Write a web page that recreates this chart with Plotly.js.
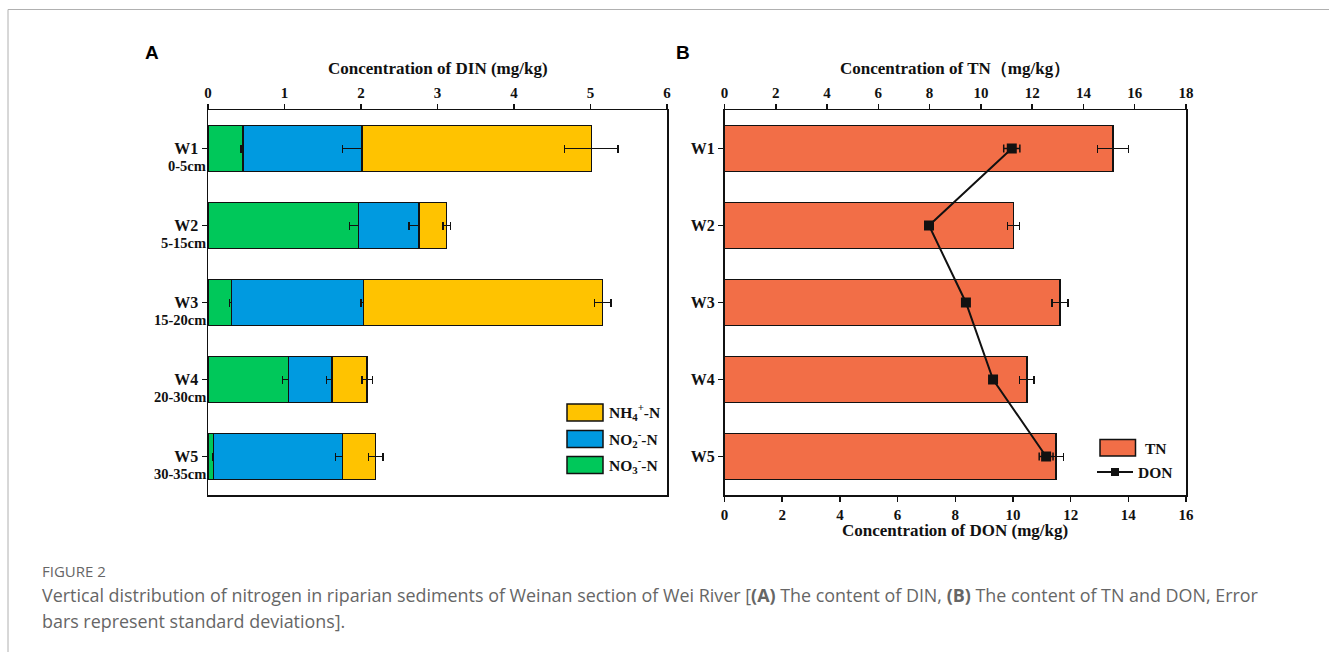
<!DOCTYPE html>
<html><head><meta charset="utf-8">
<script src="https://cdn.plot.ly/plotly-3.0.1.min.js"></script>
<style>html,body{margin:0;padding:0;background:#fff}#chart{width:1329px;height:652px}</style>
</head><body><div id="chart"></div>
<script>
// ---- data ----
const sites = ['W1','W2','W3','W4','W5'];
const depths = ['0-5cm','5-15cm','15-20cm','20-30cm','30-35cm'];
const no3 = [0.46, 1.97, 0.31, 1.05, 0.07];
const no3Err = [0.03, 0.12, 0.03, 0.075, 0.01];
const no2 = [1.55, 0.79, 1.72, 0.57, 1.69];
const no2Err = [0.25, 0.13, 0.03, 0.07, 0.095];
const nh4 = [3.00, 0.36, 3.13, 0.46, 0.43];
const nh4Err = [0.35, 0.05, 0.11, 0.07, 0.095];
const tn = [15.15, 11.27, 13.09, 11.79, 12.92];
const tnErr = [0.60, 0.23, 0.31, 0.28, 0.30];
const don = [9.96, 7.09, 8.37, 9.31, 11.15];
const donErr = [0.28, 0.10, 0.10, 0.10, 0.24];
const dinNames = ['NO<sub>3</sub><sup>-</sup>-N','NO<sub>2</sub><sup>-</sup>-N','NH<sub>4</sub><sup>+</sup>-N'];
const dinColors = ['#00C85A','#009AE0','#FFC300'];
const tnColor = '#F26E47';

// ---- helpers ----
const W = 1329, H = 652;
const px = v => v / W;
const py = v => 1 - v / H;
const serif = 'Liberation Serif, Times New Roman, serif';
const ink = '#111';

const plotTop = 110, plotBot = 495;
const domY = [py(plotBot), py(plotTop)];
const domA = [px(208), px(667)];
const domB = [px(724.5), px(1186)];

function barTrace(x, err, name, color, xa, ya) {
  return {
    type: 'bar', orientation: 'h', y: sites, x: x, name: name,
    xaxis: xa, yaxis: ya, width: 0.6,
    marker: {color: color, line: {color: ink, width: 1.5}},
    error_x: {type: 'data', array: err, visible: true, color: ink, thickness: 1.5, width: 4},
    showlegend: false, hoverinfo: 'x+y+name'
  };
}

const data = [
  barTrace(no3, no3Err, dinNames[0], dinColors[0], 'x', 'y'),
  barTrace(no2, no2Err, dinNames[1], dinColors[1], 'x', 'y'),
  barTrace(nh4, nh4Err, dinNames[2], dinColors[2], 'x', 'y'),
  barTrace(tn, tnErr, 'TN', tnColor, 'x2', 'y2'),
  {
    type: 'scatter', mode: 'lines+markers', y: sites, x: don, name: 'DON',
    xaxis: 'x3', yaxis: 'y2',
    line: {color: ink, width: 2},
    marker: {symbol: 'square', size: 10, color: ink},
    error_x: {type: 'data', array: donErr, visible: true, color: ink, thickness: 1.5, width: 4},
    showlegend: false
  }
];

const tickFontX = {family: serif, size: 15, color: ink, weight: 'bold'};
const tickFontY = {family: serif, size: 16, color: ink, weight: 'bold'};
const axCommon = {
  showline: true, linecolor: ink, linewidth: 1.5, ticks: 'outside', ticklen: 5,
  tickwidth: 1.5, tickcolor: ink, showgrid: false, zeroline: false, automargin: false,
  fixedrange: true
};

const layout = {
  width: W, height: H,
  margin: {l: 0, r: 0, t: 0, b: 0},
  paper_bgcolor: '#fff', plot_bgcolor: '#fff',
  barmode: 'stack', showlegend: false,
  xaxis: Object.assign({}, axCommon, {domain: domA, anchor: 'y', side: 'top', range: [0, 6], dtick: 1, mirror: true, tickfont: tickFontX}),
  yaxis: Object.assign({}, axCommon, {domain: domY, anchor: 'x', type: 'category', categoryorder: 'array', categoryarray: sites, range: [4.5, -0.5], mirror: true, tickfont: tickFontY}),
  xaxis2: Object.assign({}, axCommon, {domain: domB, anchor: 'y2', side: 'top', range: [0, 18], dtick: 2, mirror: false, tickfont: tickFontX}),
  xaxis3: Object.assign({}, axCommon, {overlaying: 'x2', anchor: 'y2', side: 'bottom', range: [0, 16], dtick: 2, tickfont: tickFontX}),
  yaxis2: Object.assign({}, axCommon, {domain: domY, anchor: 'x2', type: 'category', categoryorder: 'array', categoryarray: sites, range: [4.5, -0.5], mirror: true, tickfont: tickFontY}),
  shapes: [],
  annotations: []
};

// page frame
layout.shapes.push({type: 'line', xref: 'paper', yref: 'paper', x0: px(8), x1: 1, y0: py(9.5), y1: py(9.5), line: {color: '#b0b0b0', width: 1}});
layout.shapes.push({type: 'line', xref: 'paper', yref: 'paper', x0: px(8), x1: px(8), y0: py(9.5), y1: 0, line: {color: '#b0b0b0', width: 1}});

const ann = (text, x, y, opts) => Object.assign({text: text, x: x, y: y, xref: 'paper', yref: 'paper', showarrow: false, xanchor: 'center', yanchor: 'middle'}, opts || {});
const titleFont = {family: serif, size: 17, color: ink, weight: 'bold'};

// panel letters
layout.annotations.push(ann('A', px(152), py(53), {font: {family: 'Liberation Sans, Arial, sans-serif', size: 19, color: '#000', weight: 'bold'}}));
layout.annotations.push(ann('B', px(683), py(53), {font: {family: 'Liberation Sans, Arial, sans-serif', size: 19, color: '#000', weight: 'bold'}}));

// axis titles
layout.annotations.push(ann('Concentration of DIN (mg/kg)', px(437.5), py(69), {font: titleFont}));
layout.annotations.push(ann('Concentration of TN（mg/kg）', px(955), py(69), {font: titleFont}));
layout.annotations.push(ann('Concentration of DON (mg/kg)', px(955), py(530), {font: titleFont}));

// depth labels under site names (panel A)
sites.forEach((s, i) => {
  layout.annotations.push({text: depths[i], xref: 'paper', yref: 'y', x: px(207.5), y: s, yshift: -17,
    xanchor: 'right', yanchor: 'middle', showarrow: false,
    font: {family: serif, size: 14.5, color: ink, weight: 'bold'}});
});

// legend A (top to bottom: NH4, NO2, NO3)
const legA = [2, 1, 0];
const legAY = [412.5, 439, 465];
legA.forEach((k, j) => {
  layout.shapes.push({type: 'rect', xref: 'paper', yref: 'paper', x0: px(567), x1: px(603), y0: py(legAY[j] - 8.5), y1: py(legAY[j] + 8.5),
    fillcolor: dinColors[k], line: {color: ink, width: 1.5}});
  layout.annotations.push(ann(dinNames[k], px(607), py(legAY[j]), {xanchor: 'left', font: {family: serif, size: 15.5, color: ink, weight: 'bold'}}));
});

// legend B
layout.shapes.push({type: 'rect', xref: 'paper', yref: 'paper', x0: px(1100), x1: px(1135.5), y0: py(456), y1: py(439.5),
  fillcolor: tnColor, line: {color: ink, width: 1.5}});
layout.annotations.push(ann('TN', px(1143), py(448), {xanchor: 'left', font: {family: serif, size: 15.5, color: ink, weight: 'bold'}}));
layout.shapes.push({type: 'line', xref: 'paper', yref: 'paper', x0: px(1097), x1: px(1133), y0: py(472), y1: py(472), line: {color: ink, width: 2}});
layout.shapes.push({type: 'rect', xref: 'paper', yref: 'paper', x0: px(1111), x1: px(1119), y0: py(476), y1: py(468), fillcolor: ink, line: {color: ink, width: 0}});
layout.annotations.push(ann('DON', px(1136), py(472), {xanchor: 'left', font: {family: serif, size: 15.5, color: ink, weight: 'bold'}}));

// caption
const capFont = {family: 'Open Sans, Lato, sans-serif', size: 15, color: '#666'};
layout.annotations.push(ann('FIGURE 2', px(40), py(571), {xanchor: 'left', font: capFont}));
const capText = {family: 'Open Sans, Lato, sans-serif', size: 17.9, color: '#666'};
layout.annotations.push(ann('Vertical distribution of nitrogen in riparian sediments of Weinan section of Wei River [<b>(A)</b> The content of DIN, <b>(B)</b> The content of TN and DON, Error', px(40), py(595), {xanchor: 'left', font: capText}));
layout.annotations.push(ann('bars represent standard deviations].', px(40), py(621), {xanchor: 'left', font: capText}));

Plotly.newPlot('chart', data, layout, {displayModeBar: false, staticPlot: true});
</script>
</body></html>
